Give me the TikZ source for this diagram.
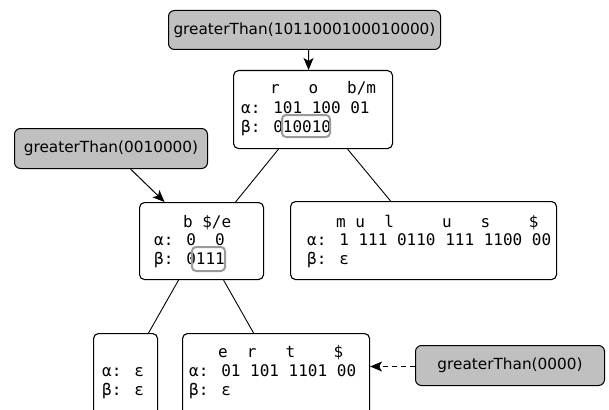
\documentclass[tikz,border=0pt]{standalone}
\usepackage{fontspec}
\newfontfamily\codefont{DejaVu Sans Mono}
\newfontfamily\callfont{DejaVu Sans}
\usetikzlibrary{arrows.meta}
\definecolor{callgray}{HTML}{C0C0C0}
\definecolor{bitmark}{HTML}{9A9A9A}
% one cell of DejaVu Sans Mono at 16pt (0.602em)
\newdimen\cellwd
\cellwd=9.633pt
\newcommand\gap[1]{\hspace*{#1\cellwd}}
\newcommand\codestyle{\codefont\fontsize{16}{19}\selectfont\spaceskip=\cellwd\relax}

\begin{document}
\begin{tikzpicture}[x=1pt,y=-1pt,
  trienode/.style={draw=black,line width=1.1pt,rounded corners=5pt,fill=white,
    inner sep=0pt,anchor=north west},
  callbox/.style={draw=black,line width=1pt,rounded corners=6pt,fill=callgray,
    inner sep=0pt,anchor=north west,
    font=\callfont\fontsize{15.3}{18}\selectfont},
  codeline/.style={anchor=base west,inner sep=0pt,font=\codestyle},
  treeedge/.style={line width=0.9pt},
  callarrow/.style={line width=1pt,-{Stealth[length=12pt,width=10pt,inset=3pt]}},
  bitbox/.style={draw=bitmark,line width=2pt,rounded corners=4pt},
]
\clip (0,0) rectangle (609,409);

% calls
\node[callbox,minimum width=272pt,minimum height=39pt] (gtop) at (168,10) {greaterThan(1011000100010000)};
\node[callbox,minimum width=193pt,minimum height=40pt] (gleft) at (14,128) {greaterThan(0010000)};
\node[callbox,minimum width=189pt,minimum height=40pt] (gright) at (415,345) {greaterThan(0000)};

% trie nodes
\node[trienode,minimum width=159pt,minimum height=78pt] (root) at (233,70) {};
\node[trienode,minimum width=124pt,minimum height=77pt] (left) at (139,202) {};
\node[trienode,minimum width=266pt,minimum height=78pt] (right) at (290,201) {};
\node[trienode,minimum width=64pt,minimum height=90pt] (leafa) at (93,333) {};
\node[trienode,minimum width=187pt,minimum height=90pt] (leafb) at (182,333) {};

% contents of the root
\node[codeline] (root1) at (241,94) {\gap{3}r\gap{3}o\gap{3}b/m};
\node[codeline] (root2) at (241,113) {α: 101 100 01};
\node[codeline] (root3) at (241,132) {β: 010010};
\draw[bitbox] (282,115) rectangle (330,137);

% contents of the left child
\node[codeline] (left1) at (154,227) {\gap{3}b\gap{1}\$/e};
\node[codeline] (left2) at (154,245.5) {α: 0\gap{2}0};
\node[codeline] (left3) at (154,264) {β: 0111};
\draw[bitbox] (192,247) rectangle (225,271);

% contents of the right child
\node[codeline] (right1) at (307,227) {\gap{3}m u\gap{2}l\gap{5}u\gap{3}s\gap{4}\$};
\node[codeline] (right2) at (307,245.5) {α: 1 111 0110 111 1100 00};
\node[codeline] (right3) at (307,264) {β: ε};

% contents of the leaves
\node[codeline] (leafa2) at (102,376) {α: ε};
\node[codeline] (leafa3) at (102,395) {β: ε};
\node[codeline] (leafb1) at (189,357) {\gap{3}e\gap{2}r\gap{3}t\gap{4}\$};
\node[codeline] (leafb2) at (189,376) {α: 01 101 1101 00};
\node[codeline] (leafb3) at (189,395) {β: ε};

% tree edges
\draw[treeedge] ([xshift=-34.5pt]root.south) -- ([xshift=34pt]left.north);
\draw[treeedge] ([xshift=34.5pt]root.south) -- ([xshift=-33pt]right.north);
\draw[treeedge] ([xshift=-23pt]left.south) -- ([xshift=23pt]leafa.north);
\draw[treeedge] ([xshift=22pt]left.south) -- ([xshift=-22.5pt]leafb.north);

% calls into the trie
\draw[callarrow] ([xshift=4pt]gtop.south) -- ([xshift=-4.5pt]root.north);
\draw[callarrow] ([xshift=19.5pt]gleft.south) -- ([xshift=-37pt]left.north);
\draw[callarrow,dash pattern=on 5pt off 4pt] ([yshift=-1pt]gright.west) -- ([yshift=-1pt]gright.west -| leafb.east);
\end{tikzpicture}
\end{document}
